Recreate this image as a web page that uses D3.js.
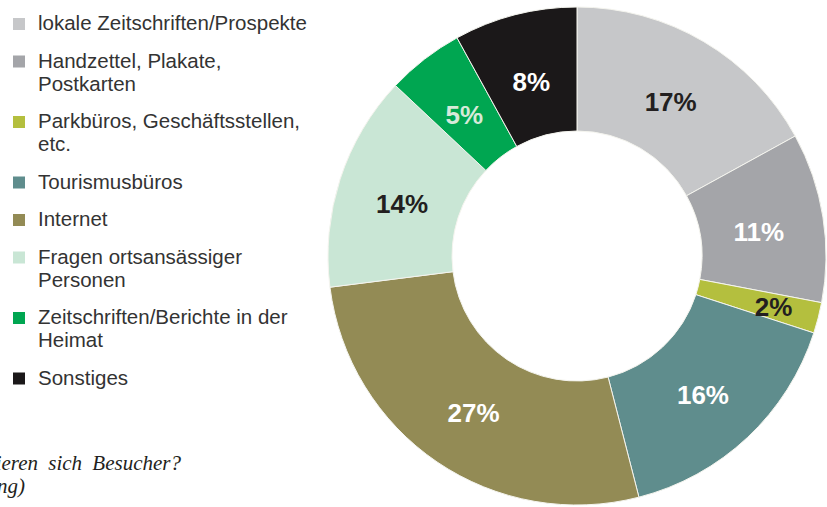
<!DOCTYPE html>
<html>
<head>
<meta charset="utf-8">
<script src="https://cdn.jsdelivr.net/npm/d3@7"></script>
<style>
  body { margin: 0; background: #fff; }
  svg { display: block; }
</style>
</head>
<body>
<div id="chart"></div>
<script>
// values in percent, clockwise from 12 o'clock
var categories = [
  "lokale Zeitschriften/Prospekte",
  "Handzettel, Plakate,\nPostkarten",
  "Parkbüros, Geschäftsstellen,\netc.",
  "Tourismusbüros",
  "Internet",
  "Fragen ortsansässiger\nPersonen",
  "Zeitschriften/Berichte in der\nHeimat",
  "Sonstiges"
];
var values = [17, 11, 2, 16, 27, 14, 5, 8];
var colors = ["#c6c7c9", "#a4a5a9", "#b4bf3e", "#5f8d8d", "#938b55", "#c9e6d5", "#00a651", "#1b1819"];
var labelColors = ["#231f20", "#ffffff", "#231f20", "#ffffff", "#ffffff", "#231f20", "#d6ead9", "#ffffff"];
var caption = ["Wo informieren sich Besucher?", "(Mehrfachnennung)"];

var width = 827, height = 507;
var cx = 577, cy = 256, outerR = 249, innerR = 125;

var svg = d3.select("#chart").append("svg")
    .attr("width", width)
    .attr("height", height);

var pie = d3.pie().sort(null).value(function(d) { return d; });
var arc = d3.arc().innerRadius(innerR).outerRadius(outerR);
var labelArc = function(v) {
    var r = v < 5 ? 203 : 184;
    return d3.arc().innerRadius(r).outerRadius(r);
};

var g = svg.append("g").attr("transform", "translate(" + cx + "," + cy + ")");
var arcs = pie(values);

g.selectAll("path")
    .data(arcs)
    .enter().append("path")
    .attr("d", arc)
    .attr("fill", function(d, i) { return colors[i]; })
    .attr("stroke", "#f4f4ee")
    .attr("stroke-width", 1);

// labels on top of all slices
g.selectAll("text")
    .data(arcs)
    .enter().append("text")
    .attr("transform", function(d) {
        var c = labelArc(d.value).centroid(d);
        var shift = d.value < 5 ? 0 : 4;
        return "translate(" + c[0] + "," + (c[1] + shift) + ")";
    })
    .attr("dy", "0.36em")
    .attr("text-anchor", "middle")
    .attr("font-family", "'Liberation Sans', Arial, sans-serif")
    .attr("font-weight", "bold")
    .attr("font-size", 26)
    .attr("fill", function(d, i) { return labelColors[i]; })
    .text(function(d) { return d.value + "%"; });

// legend
var legend = svg.append("g").attr("class", "legend");
var y = 30, lineH = 23, gap = 37.5;
categories.forEach(function(c, i) {
    var lines = c.split("\n");
    legend.append("rect")
        .attr("x", 13)
        .attr("y", y - 12)
        .attr("width", 12)
        .attr("height", 12)
        .attr("fill", colors[i]);
    var t = legend.append("text")
        .attr("font-family", "'Liberation Sans', Arial, sans-serif")
        .attr("font-size", 20.5)
        .attr("fill", "#333");
    lines.forEach(function(l, j) {
        t.append("tspan")
            .attr("x", 38)
            .attr("y", y + j * lineH)
            .text(l);
    });
    y += (lines.length - 1) * lineH + gap;
});

// caption, partly outside the left edge
var cap = svg.append("text")
    .attr("font-family", "'Liberation Serif', 'Times New Roman', serif")
    .attr("font-style", "italic")
    .attr("font-size", 21)
    .attr("word-spacing", 5)
    .attr("fill", "#231f20")
    .attr("text-anchor", "end");
cap.append("tspan").attr("x", 181).attr("y", 470).text(caption[0]);
cap.append("tspan").attr("x", 25).attr("y", 493).text(caption[1]);
</script>
</body>
</html>
